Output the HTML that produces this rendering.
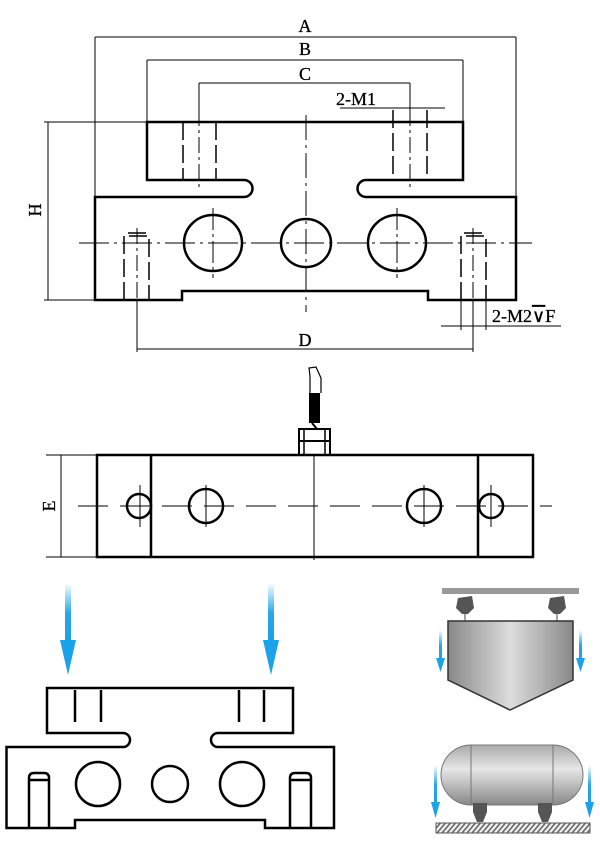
<!DOCTYPE html>
<html><head><meta charset="utf-8"><style>html,body{margin:0;padding:0;background:#fff}svg{display:block}</style></head><body>
<svg width="600" height="841" viewBox="0 0 600 841" xmlns="http://www.w3.org/2000/svg" font-family="Liberation Serif, serif">
<defs>
<linearGradient id="bl" x1="0" y1="0" x2="0" y2="1"><stop offset="0" stop-color="#29a8e8" stop-opacity="0"/><stop offset="0.5" stop-color="#29a8e8"/><stop offset="1" stop-color="#1a9fe6"/></linearGradient>
<linearGradient id="mt" x1="0" y1="0" x2="1" y2="0"><stop offset="0" stop-color="#888"/><stop offset="0.5" stop-color="#ddd"/><stop offset="1" stop-color="#888"/></linearGradient>
<linearGradient id="tk" x1="0" y1="0" x2="0" y2="1"><stop offset="0" stop-color="#aaa"/><stop offset="0.4" stop-color="#e6e6e6"/><stop offset="1" stop-color="#888"/></linearGradient>
<pattern id="ht" width="5" height="10" patternUnits="userSpaceOnUse" patternTransform="skewX(-40)"><rect width="5" height="10" fill="#eee"/><rect width="2" height="10" fill="#666"/></pattern>
</defs>
<g stroke="#000" fill="none">
<g stroke-width="1">
<line x1="95" y1="37" x2="516" y2="37"/><line x1="95" y1="37" x2="95" y2="197"/><line x1="516" y1="37" x2="516" y2="197"/>
<line x1="147" y1="60" x2="463" y2="60"/><line x1="147" y1="60" x2="147" y2="122"/><line x1="463" y1="60" x2="463" y2="122"/>
<line x1="199" y1="83" x2="410" y2="83"/><line x1="199" y1="83" x2="199" y2="122"/><line x1="410" y1="83" x2="410" y2="122"/>
<line x1="340" y1="108" x2="445" y2="108"/>
<line x1="44" y1="122" x2="147" y2="122"/><line x1="44" y1="300" x2="95" y2="300"/><line x1="48" y1="122" x2="48" y2="300"/>
<line x1="137" y1="300" x2="137" y2="352"/><line x1="473" y1="300" x2="473" y2="352"/><line x1="137" y1="349" x2="473" y2="349"/>
<line x1="441" y1="326" x2="561" y2="326"/><line x1="461" y1="300" x2="461" y2="330"/><line x1="486" y1="300" x2="486" y2="330"/>
<line x1="79" y1="243" x2="532" y2="243" stroke-dasharray="30 5 3 5"/>
<line x1="306" y1="115" x2="306" y2="312" stroke-dasharray="25 5 3 5"/>
<line x1="213" y1="208" x2="213" y2="278" stroke-dasharray="22 4 3 4"/>
<line x1="397" y1="208" x2="397" y2="278" stroke-dasharray="22 4 3 4"/>
<line x1="199" y1="110" x2="199" y2="190" stroke-dasharray="16 4 3 4"/>
<line x1="410" y1="110" x2="410" y2="190" stroke-dasharray="16 4 3 4"/>
<line x1="137" y1="228" x2="137" y2="300" stroke-dasharray="16 4 3 4"/>
<line x1="473" y1="228" x2="473" y2="300" stroke-dasharray="16 4 3 4"/>
</g>
<g stroke-width="1.5">
<line x1="183" y1="122" x2="183" y2="180" stroke-dasharray="18 5"/><line x1="216" y1="122" x2="216" y2="180" stroke-dasharray="18 5"/>
<line x1="393" y1="110" x2="393" y2="180" stroke-dasharray="18 5"/><line x1="427" y1="110" x2="427" y2="180" stroke-dasharray="18 5"/>
<path d="M124 300V236h25v64" stroke-dasharray="18 5"/><path d="M128 233h18"/>
<path d="M461 300V236h25v64" stroke-dasharray="18 5"/><path d="M464 233h18"/>
</g>
<g stroke-width="2.5">
<path d="M147 122H463V180H366A8 8 0 0 0 366 197H516V300H428V291H182V300H95V197H244A8 8 0 0 0 244 180H147Z"/>
<ellipse cx="213" cy="243" rx="29" ry="28"/><ellipse cx="306" cy="243" rx="25" ry="24"/><ellipse cx="397" cy="243" rx="29" ry="28"/>
</g>
<g stroke-width="1">
<line x1="46" y1="455" x2="97" y2="455"/><line x1="46" y1="557" x2="97" y2="557"/><line x1="61" y1="455" x2="61" y2="557"/>
<line x1="78" y1="506" x2="552" y2="506" stroke-dasharray="30 12"/>
<line x1="314" y1="455" x2="314" y2="560"/>
<line x1="140" y1="485" x2="140" y2="527"/><line x1="206" y1="485" x2="206" y2="527"/><line x1="424" y1="485" x2="424" y2="527"/><line x1="491" y1="485" x2="491" y2="527"/>
</g>
<g stroke-width="2.5">
<rect x="97" y="455" width="436" height="102"/>
<line x1="151" y1="455" x2="151" y2="557"/><line x1="478" y1="455" x2="478" y2="557"/>
<circle cx="139" cy="506" r="12"/><circle cx="491" cy="506" r="12"/>
<circle cx="206" cy="506" r="17"/><circle cx="424" cy="506" r="17"/>
<rect x="299" y="429" width="31" height="26" stroke-width="2"/>
<line x1="299" y1="441" x2="330" y2="441" stroke-width="2"/><line x1="304" y1="429" x2="304" y2="455" stroke-width="1.5"/><line x1="325" y1="429" x2="325" y2="455" stroke-width="1.5"/>
</g>
<rect x="309" y="393" width="11" height="30" fill="#000" stroke="none"/>
<path d="M310 393V376L309 368L316 367L321 378V393" stroke-width="1.2"/>
<line x1="312" y1="423" x2="317" y2="429" stroke-width="2"/>
<g stroke-width="2.5">
<path d="M47 688H293V733H218A7 7 0 0 0 218 747H334V828H265V820H75V828H6.5V747H123A7 7 0 0 0 123 733H47Z"/>
<circle cx="98" cy="784" r="22"/><circle cx="170" cy="784" r="18"/><circle cx="242" cy="784" r="22"/>
<path d="M29 828V778Q29 773 34 773H44Q49 773 49 778V828"/><path d="M29 780h20"/>
<path d="M290 828V778Q290 773 295 773H306Q311 773 311 778V828"/><path d="M290 780h21"/>
<line x1="75" y1="690" x2="75" y2="722"/><line x1="101" y1="690" x2="101" y2="722"/>
<line x1="239" y1="690" x2="239" y2="722"/><line x1="264" y1="690" x2="264" y2="722"/>
</g>
</g>
<rect x="65" y="583" width="6" height="60" fill="url(#bl)"/><path d="M60 640H76L68 675Z" fill="#1aa3e8"/>
<rect x="268" y="583" width="6" height="60" fill="url(#bl)"/><path d="M263 640H279L271 675Z" fill="#1aa3e8"/>
<rect x="442" y="588" width="137" height="6" fill="#999"/>
<path d="M458 598L472 596L474 608L468 614L462 614L456 608Z" fill="#555"/>
<path d="M550 598L564 596L566 608L560 614L554 614L548 608Z" fill="#555"/>
<line x1="465" y1="614" x2="465" y2="621" stroke="#444"/><line x1="557" y1="614" x2="557" y2="621" stroke="#444"/>
<path d="M448 621H573V680L510 710L448 680Z" fill="url(#mt)" stroke="#333" stroke-width="1.5"/>
<rect x="439" y="630" width="3" height="30" fill="url(#bl)"/><path d="M436 658H445L440.5 672Z" fill="#1aa3e8"/>
<rect x="579" y="630" width="3" height="30" fill="url(#bl)"/><path d="M576 658H585L580.5 672Z" fill="#1aa3e8"/>
<rect x="441" y="745" width="142" height="60" rx="30" fill="url(#tk)" stroke="#777"/>
<line x1="471" y1="745" x2="471" y2="805" stroke="#777"/><line x1="553" y1="745" x2="553" y2="805" stroke="#777"/>
<path d="M473 803H487V812L483 822H477L473 812Z" fill="#555"/>
<path d="M538 803H552V812L548 822H542L538 812Z" fill="#555"/>
<rect x="436" y="823" width="154" height="10" fill="url(#ht)" stroke="#555"/>
<rect x="434" y="765" width="3" height="40" fill="url(#bl)"/><path d="M431 802H440L435.5 818Z" fill="#1aa3e8"/>
<rect x="588" y="765" width="3" height="40" fill="url(#bl)"/><path d="M585 802H594L589.5 818Z" fill="#1aa3e8"/>
<g font-size="18" fill="#000" stroke="#000" stroke-width="0.3">
<text x="305" y="32" text-anchor="middle">A</text>
<text x="305" y="55" text-anchor="middle">B</text>
<text x="305" y="80" text-anchor="middle">C</text>
<text x="336" y="105">2-M1</text>
<text x="305" y="346" text-anchor="middle">D</text>
<text x="492" y="322">2-M2<tspan text-decoration="overline">∨</tspan>F</text>
<text transform="translate(41,210) rotate(-90)" text-anchor="middle">H</text>
<text transform="translate(55,506) rotate(-90)" text-anchor="middle">E</text>
</g>
</svg>
</body></html>
